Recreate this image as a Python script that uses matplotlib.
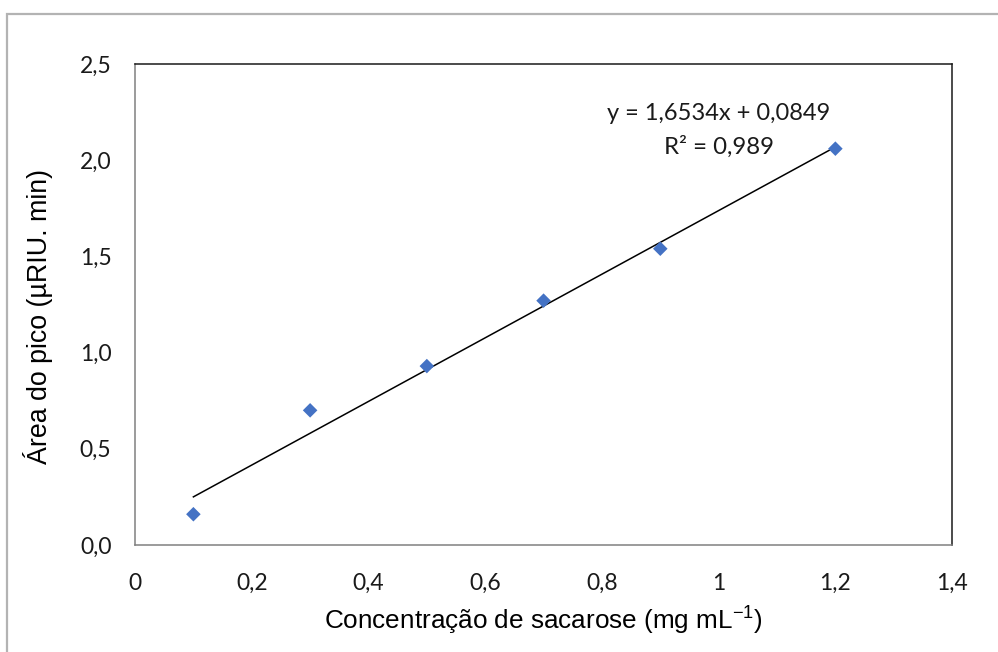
import numpy as np
import matplotlib.pyplot as plt
from matplotlib.patches import Rectangle

plt.rcParams["mathtext.fontset"] = "custom"
plt.rcParams["mathtext.rm"] = "Liberation Sans"

# sucrose calibration points
conc = [0.1, 0.3, 0.5, 0.7, 0.9, 1.2]
area = [0.16, 0.70, 0.93, 1.27, 1.54, 2.06]

# linear fit reported on the chart
slope = 1.6534
intercept = 0.0849
r2 = 0.989

x_ticks = [0, 0.2, 0.4, 0.6, 0.8, 1.0, 1.2, 1.4]
x_labels = ["0", "0,2", "0,4", "0,6", "0,8", "1", "1,2", "1,4"]
y_ticks = [0.0, 0.5, 1.0, 1.5, 2.0, 2.5]
y_labels = ["0,0", "0,5", "1,0", "1,5", "2,0", "2,5"]

TICK_FONT = ["Lato", "DejaVu Sans"]
LABEL_FONT = ["Liberation Sans", "DejaVu Sans"]

fig = plt.figure(figsize=(9.98, 6.52), dpi=100)
ax = fig.add_axes([0.1353, 0.1641, 0.8187, 0.7377])

# chart frame
fig.add_artist(Rectangle((7 / 998, -0.05), 1.2, (652 - 14) / 652 + 0.05,
                         transform=fig.transFigure, fill=False,
                         edgecolor="#b3b3b3", linewidth=1.6))

ax.scatter(conc, area, marker="D", s=55, color="#4472c4", zorder=3,
           edgecolors="none")

fit_x = np.array([min(conc), max(conc)])
ax.plot(fit_x, slope * fit_x + intercept, color="black", linewidth=1.1,
        zorder=2)

ax.text(1.0, 2.245, "y = 1,6534x + 0,0849", ha="center", va="center",
        fontsize=17, family=TICK_FONT, color="#1a1a1a")
ax.text(1.0, 2.07, f"R² = {r2:.3f}".replace(".", ","), ha="center",
        va="center", fontsize=17.3, family=TICK_FONT, color="#1a1a1a")

ax.set_xlim(0, 1.4)
ax.set_ylim(0, 2.5)
ax.set_xticks(x_ticks)
ax.set_xticklabels(x_labels)
ax.set_yticks(y_ticks)
ax.set_yticklabels(y_labels)
ax.tick_params(length=0, labelsize=16.5, colors="#1a1a1a")
for lab in ax.get_xticklabels() + ax.get_yticklabels():
    lab.set_family(TICK_FONT)
ax.tick_params(axis="x", pad=20)
ax.tick_params(axis="y", pad=17)

ax.spines["left"].set_color("#808080")
ax.spines["bottom"].set_color("#808080")
ax.spines["top"].set_color("#1a1a1a")
ax.spines["right"].set_color("#1a1a1a")
for sp in ax.spines.values():
    sp.set_linewidth(1.1)

ax.set_xlabel("Concentração de sacarose (mg mL$^{-1}$)", fontsize=18.8,
              family=LABEL_FONT, labelpad=7)
ax.set_ylabel("Área do pico (µRIU. min)", fontsize=19.3,
              family=LABEL_FONT)
ax.yaxis.set_label_coords(-0.100, 0.475)

fig.savefig("out.png", dpi=100)
